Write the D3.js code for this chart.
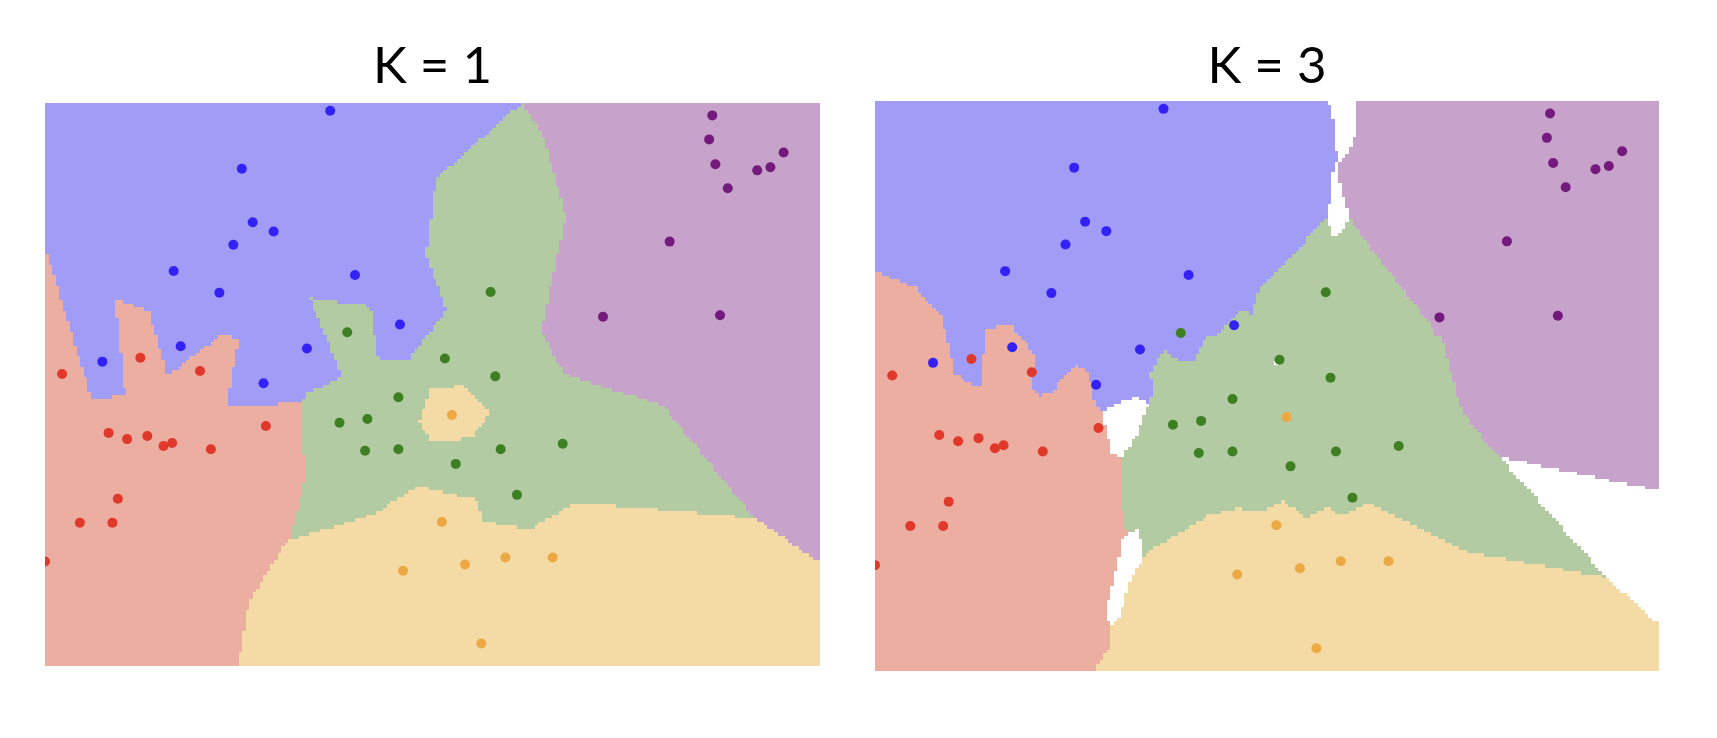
<!DOCTYPE html>
<html>
<head>
<meta charset="utf-8">
<script src="https://cdn.jsdelivr.net/npm/d3@7"></script>
<style>
  body { margin: 0; background: #fff; }
  svg { display: block; }
</style>
</head>
<body>
<div id="chart"></div>
<script>
// training points (x 0-10, y 0-7.27)
var bluePts = [[3.68,7.17],[2.54,6.42],[2.68,5.73],[2.95,5.61],[2.43,5.44],[1.66,5.10],
  [4.00,5.05],[2.25,4.82],[4.58,4.41],[1.75,4.13],[0.74,3.93],[3.38,4.10],[2.82,3.65]];
var redPts = [[0.22,3.77],[1.23,3.98],[2.00,3.81],[2.85,3.10],[0.82,3.01],[1.06,2.93],
  [1.32,2.97],[1.53,2.84],[1.64,2.88],[2.14,2.80],[0.94,2.16],[0.45,1.85],[0.87,1.85],[0.0,1.35]];
var greenPts = [[3.90,4.31],[5.75,4.83],[5.16,3.97],[5.81,3.74],[4.56,3.47],[3.80,3.14],
  [4.16,3.19],[4.13,2.78],[4.56,2.80],[5.30,2.61],[5.88,2.80],[6.68,2.87],[6.09,2.21]];
var orangePts = [[5.25,3.24],[5.12,1.86],[4.62,1.23],[5.42,1.31],[5.94,1.40],[6.55,1.40],[5.63,0.29]];
var purplePts = [[8.61,7.11],[8.57,6.80],[8.65,6.48],[9.53,6.63],[9.19,6.40],[9.36,6.44],
  [8.81,6.17],[8.06,5.48],[7.20,4.51],[8.71,4.53]];

var classNames = ['blue', 'red', 'green', 'orange', 'purple'];
var kValues = [1, 3];
var xDomain = [0, 10], yDomain = [0, 7.27];

var regionColor = ['#a19cf6', '#ebaea0', '#b3cba2', '#f4dba6', '#c7a2cb'];
var pointColor = ['#3322f5', '#e0382b', '#3f7f24', '#eca843', '#741a7c'];

var points = [];
[bluePts, redPts, greenPts, orangePts, purplePts].forEach(function(arr, c) {
  arr.forEach(function(p) { points.push({ x: p[0], y: p[1], c: c }); });
});

var panels = [
  { k: kValues[0], left: 45, right: 820, top: 103, bottom: 666 },
  { k: kValues[1], left: 875, right: 1659, top: 101, bottom: 671 }
];

var svg = d3.select('#chart').append('svg')
  .attr('width', 1717)
  .attr('height', 738);

// knn vote, -1 when all k neighbours disagree
function classify(x, y, k) {
  var d = points.map(function(p) {
    return { d: (p.x - x) * (p.x - x) + (p.y - y) * (p.y - y), c: p.c };
  });
  d.sort(function(a, b) { return a.d - b.d; });
  var votes = [0, 0, 0, 0, 0];
  for (var i = 0; i < k; i++) votes[d[i].c]++;
  var best = d3.maxIndex(votes);
  if (k > 1 && votes[best] < 2) return -1;
  return best;
}

var nx = 220, ny = 160;

panels.forEach(function(pn, idx) {
  var x = d3.scaleLinear().domain(xDomain).range([pn.left, pn.right]);
  var y = d3.scaleLinear().domain(yDomain).range([pn.bottom, pn.top]);
  var dx = (xDomain[1] - xDomain[0]) / nx, dy = (yDomain[1] - yDomain[0]) / ny;

  var g = svg.append('g');
  svg.append('clipPath').attr('id', 'clip' + idx)
    .append('rect')
      .attr('x', pn.left).attr('y', pn.top)
      .attr('width', pn.right - pn.left).attr('height', pn.bottom - pn.top);
  g.attr('clip-path', 'url(#clip' + idx + ')');

  // merge each grid row into runs of one class
  var runs = [];
  for (var j = 0; j < ny; j++) {
    var y0 = yDomain[0] + j * dy;
    var start = 0, cur = classify(xDomain[0] + dx / 2, y0 + dy / 2, pn.k);
    for (var i = 1; i <= nx; i++) {
      var c = i < nx ? classify(xDomain[0] + (i + 0.5) * dx, y0 + dy / 2, pn.k) : null;
      if (c !== cur) {
        runs.push({ x0: start * dx, x1: i * dx, y0: y0, y1: y0 + dy, c: cur });
        start = i; cur = c;
      }
    }
  }

  g.selectAll('rect.cell')
    .data(runs.filter(function(r) { return r.c >= 0; }))
    .enter().append('rect')
      .attr('class', 'cell')
      .attr('shape-rendering', 'crispEdges')
      .attr('x', function(d) { return Math.round(x(d.x0)); })
      .attr('y', function(d) { return Math.round(y(d.y1)); })
      .attr('width', function(d) { return Math.round(x(d.x1)) - Math.round(x(d.x0)); })
      .attr('height', function(d) { return Math.round(y(d.y0)) - Math.round(y(d.y1)); })
      .style('fill', function(d) { return regionColor[d.c]; });

  g.selectAll('circle')
    .data(points)
    .enter().append('circle')
      .attr('cx', function(d) { return x(d.x); })
      .attr('cy', function(d) { return y(d.y); })
      .attr('r', 5)
      .style('fill', function(d) { return pointColor[d.c]; });

  svg.append('text')
    .attr('x', (pn.left + pn.right) / 2)
    .attr('y', 83)
    .attr('text-anchor', 'middle')
    .style('font-family', 'Lato, sans-serif')
    .style('font-size', '51px')
    .style('fill', '#000')
    .text('K = ' + pn.k);
});
</script>
</body>
</html>
